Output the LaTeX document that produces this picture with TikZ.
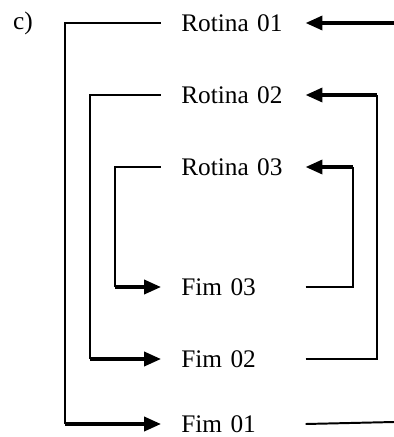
\documentclass[tikz,border=0pt]{standalone}
\usepackage{fontspec}
\setmainfont{Liberation Serif}
\usetikzlibrary{arrows.meta, positioning}

\tikzset{
  rotbox/.style={anchor=west, text width=2.6cm, inner xsep=0.5cm, inner ysep=0pt,
    align=left, font=\fontsize{18}{22}\selectfont},
  wire/.style={line width=1.4pt},
  flow/.style={line width=2.4pt, -{Triangle[length=12pt, width=10pt]}}
}

\begin{document}
\begin{tikzpicture}[x=0.025cm, y=-0.025cm]
        \useasboundingbox (0,0) rectangle (394,437);

        % Label
        \node[font=\fontsize{18}{22}\selectfont] (lbl) at (23,23) {c)};

        % The routines
        \node[rotbox] (rot1) at (161,23) {Rotina 01};
        \node[rotbox] (rot2) at (161,95) {Rotina 02};
        \node[rotbox] (rot3) at (161,167) {Rotina 03};
        \node[rotbox] (fim3) at (161,287) {Fim 03};
        \node[rotbox] (fim2) at (161,359) {Fim 02};
        \node[rotbox] (fim1) at (161,424) {Fim 01};

        % Rails
        \coordinate (rail1) at (65,0);
        \coordinate (rail2) at (90,0);
        \coordinate (rail3) at (115,0);
        \coordinate (back2) at (377,0);
        \coordinate (back3) at (353,0);
        \coordinate (in1) at (394,23);
        \coordinate (out1) at (394,422);

        % Outer loop
        \draw[flow] (in1) -- (rot1.east);
        \draw[wire] (rot1.west) -- (rail1 |- rot1.west) -- (rail1 |- fim1.west);
        \draw[flow] (rail1 |- fim1.west) -- (fim1.west);
        \draw[wire] (fim1.east) -- (out1);

        % Middle loop
        \draw[wire] (rot2.west) -- (rail2 |- rot2.west) -- (rail2 |- fim2.west);
        \draw[flow] (rail2 |- fim2.west) -- (fim2.west);
        \draw[wire] (fim2.east) -- (back2 |- fim2.east) -- (back2 |- rot2.east);
        \draw[flow] (back2 |- rot2.east) -- (rot2.east);

        % Inner loop
        \draw[wire] (rot3.west) -- (rail3 |- rot3.west) -- (rail3 |- fim3.west);
        \draw[flow] (rail3 |- fim3.west) -- (fim3.west);
        \draw[wire] (fim3.east) -- (back3 |- fim3.east) -- (back3 |- rot3.east);
        \draw[flow] (back3 |- rot3.east) -- (rot3.east);
\end{tikzpicture}
\end{document}
